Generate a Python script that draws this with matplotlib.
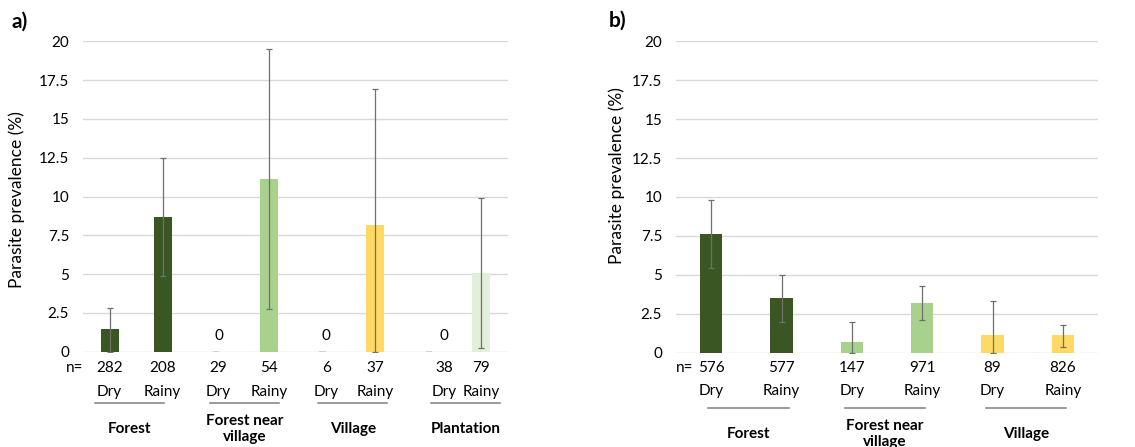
import numpy as np
import matplotlib
matplotlib.use('Agg')
import matplotlib.pyplot as plt
from matplotlib.transforms import blended_transform_factory

plt.rcParams['font.family'] = ['Lato', 'DejaVu Sans']

# ---- data panel a)
groups_a = ['Forest', 'Forest near\nvillage', 'Village', 'Plantation']
season = ['Dry', 'Rainy']
prev_a = [1.45, 8.7, 0, 11.1, 0, 8.15, 0, 5.1]
err_lo_a = [0, 4.85, 0, 2.75, 0, 0, 0, 0.25]
err_hi_a = [2.8, 12.5, 0, 19.5, 0, 16.9, 0, 9.9]
n_a = [282, 208, 29, 54, 6, 37, 38, 79]

# ---- data panel b)
groups_b = ['Forest', 'Forest near\nvillage', 'Village']
prev_b = [7.65, 3.5, 0.7, 3.2, 1.13, 1.11]
err_lo_b = [5.45, 1.95, 0, 2.08, 0, 0.38]
err_hi_b = [9.8, 4.97, 2.0, 4.28, 3.3, 1.8]
n_b = [576, 577, 147, 971, 89, 826]

dark = '#3A5723'
light = '#A9D18E'
yellow = '#FFD966'
pale = '#E2EFDA'
cols_a = [dark, dark, light, light, yellow, yellow, pale, pale]
cols_b = [dark, dark, light, light, yellow, yellow]

W, H = 1135, 447
fig = plt.figure(figsize=(W / 100, H / 100), dpi=100)
FS = 11


def fy(px):
    return 1 - px / H


def panel(rect, vals, lo, hi, ns, groups, cols, letter, width,
          lab_nudge, line_nudge, half_line, rows, ylab_pos, letter_xy, n_ha):
    ax = fig.add_axes(rect)
    x = np.arange(len(vals))
    ax.bar(x, vals, width=width, color=cols, zorder=3)
    for i, v in enumerate(vals):
        if v == 0:
            ax.plot([x[i] - 0.05, x[i] + 0.05], [0, 0], color='#404040', lw=1, zorder=4)
    v = np.array(vals)
    has = np.array(hi) > 0
    ax.errorbar(x[has], v[has], yerr=[(v - np.array(lo))[has], (np.array(hi) - v)[has]],
                fmt='none', ecolor='#6f6f6f', elinewidth=0.9, capsize=2.2,
                capthick=0.9, zorder=5)
    ax.set_xlim(-0.5, len(vals) - 0.5)
    ax.set_ylim(0, 20)
    ax.set_yticks(np.arange(0, 20.1, 2.5))
    ax.set_yticklabels(['0', '2.5', '5', '7.5', '10', '12.5', '15', '17.5', '20'])
    ax.set_xticks([])
    ax.grid(axis='y', color='#D9D9D9', lw=1, zorder=0)
    ax.set_axisbelow(True)
    for s in ax.spines.values():
        s.set_visible(False)
    ax.tick_params(axis='y', length=0, labelsize=FS, pad=10)
    ax.set_ylabel('Parasite prevalence (%)', fontsize=12.5)
    ax.yaxis.set_label_coords(*ylab_pos)

    tr = blended_transform_factory(ax.transData, fig.transFigure)
    y_n, y_s, y_line, y_g = rows
    ax.text(-0.5, fy(y_n), 'n=', transform=tr, ha=n_ha, va='center', fontsize=FS)
    for i in range(len(vals)):
        xl = x[i] + lab_nudge[i]
        ax.text(xl, fy(y_n), str(ns[i]), transform=tr, ha='center', va='center', fontsize=FS)
        ax.text(xl, fy(y_s), season[i % 2], transform=tr, ha='center', va='center', fontsize=FS)
        if vals[i] == 0:
            ax.annotate('0', (xl, 0), xytext=(0, 6), textcoords='offset points',
                        ha='center', va='bottom', fontsize=FS)
    for g, name in enumerate(groups):
        cx = 2 * g + 0.5 + line_nudge[g]
        ax.plot([cx - half_line, cx + half_line], [fy(y_line)] * 2, transform=tr,
                color='#7F7F7F', lw=1.1, clip_on=False)
        ax.text(cx, fy(y_g), name, transform=tr, ha='center', va='center',
                fontsize=FS, fontweight='bold', linespacing=1.25)
    fig.text(letter_xy[0] / W, fy(letter_xy[1]), letter, fontsize=15,
             fontweight='bold', ha='left', va='center')
    return ax


panel([83 / W, fy(351.7), 425 / W, 310.4 / H], prev_a, err_lo_a, err_hi_a, n_a,
      groups_a, cols_a, 'a)', 0.34,
      [0.0, 0.0, 0.05, 0.0, 0.08, 0.0, 0.3, 0.0], [-0.13, 0.04, 0.08, 0.2], 0.65,
      (368, 392, 403, 429), (-0.136, 0.49), (12, 22), 'right')

panel([676 / W, fy(352.7), 422 / W, 311.4 / H], prev_b, err_lo_b, err_hi_b, n_b,
      groups_b, cols_b, 'b)', 0.32,
      [0.0] * 6, [0.03, -0.03, -0.02], 0.57,
      (368, 391, 408, 434), (-0.121, 0.57), (609, 21), 'left')

fig.savefig('out.png', dpi=100)
